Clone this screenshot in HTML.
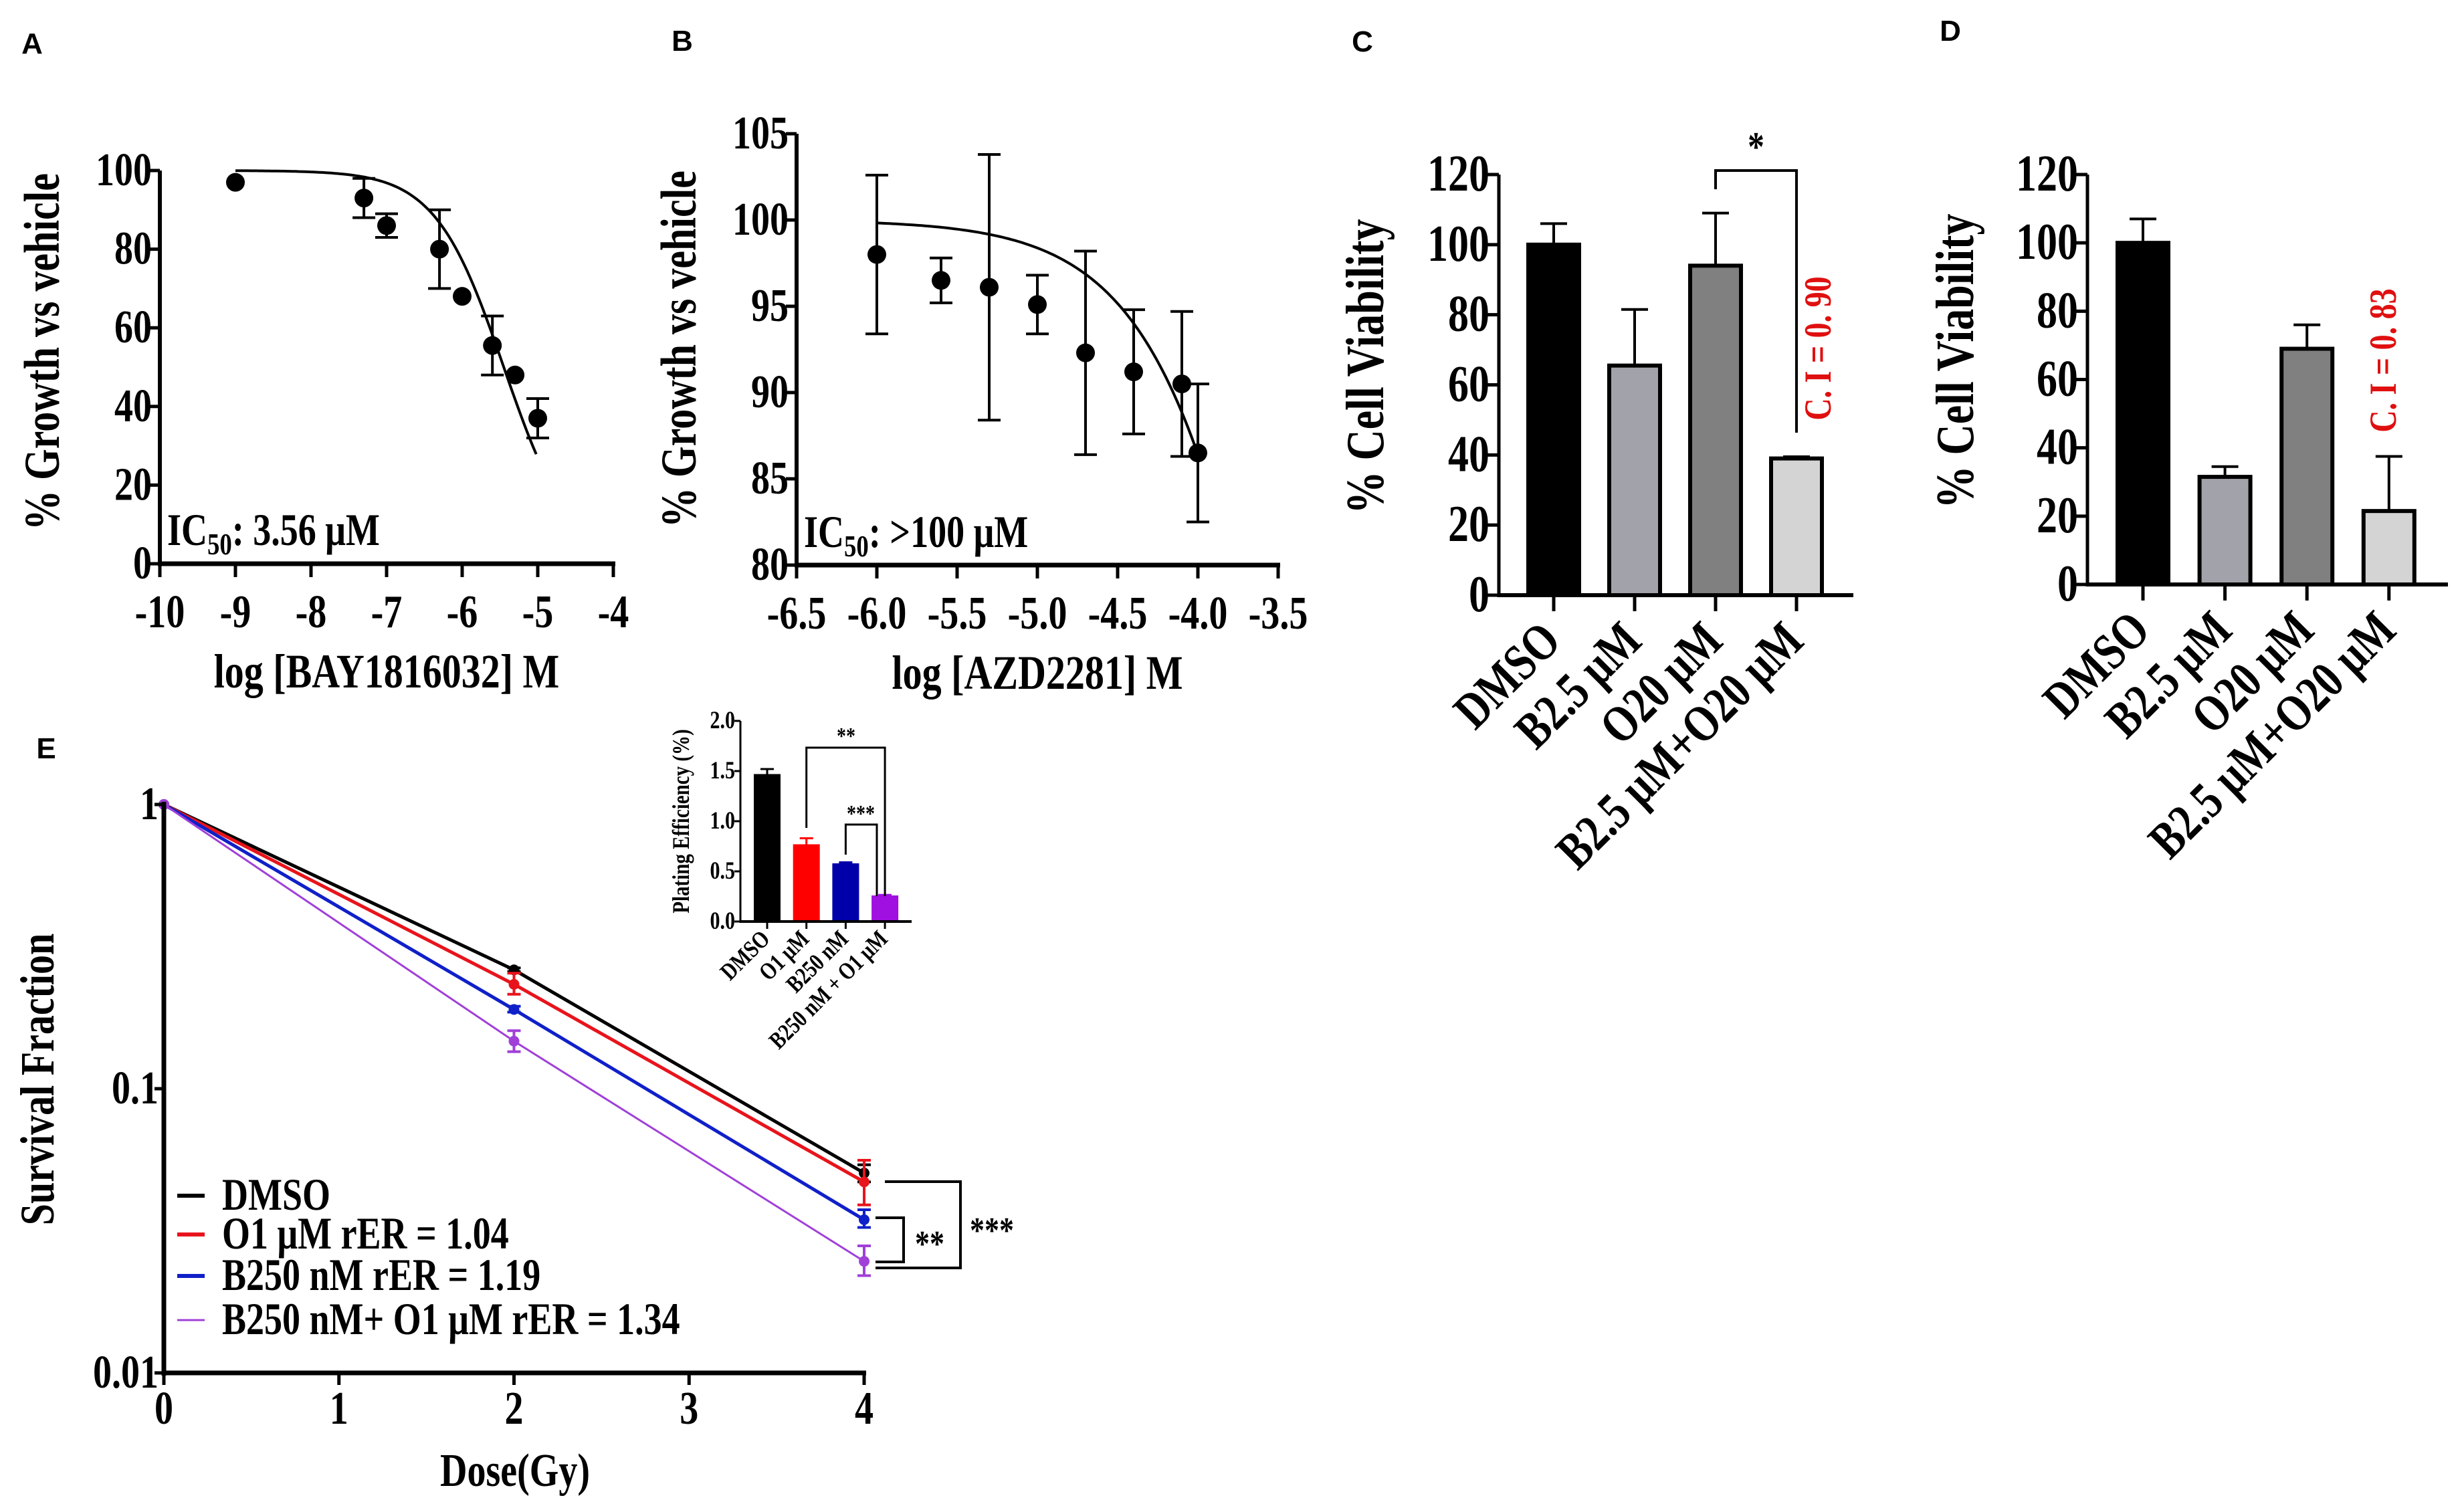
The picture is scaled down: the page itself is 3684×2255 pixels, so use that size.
<!DOCTYPE html>
<html><head><meta charset="utf-8"><style>
html,body{margin:0;padding:0;background:#fff}
svg{display:block}
text{font-family:"Liberation Serif",serif;font-weight:bold}
.lab{font-family:"Liberation Sans",sans-serif;font-weight:bold}
</style></head><body>
<svg id="fig" width="3684" height="2255" viewBox="0 0 3684 2255" xmlns="http://www.w3.org/2000/svg"></svg>
<script>
// ---------- Panel A data ----------
const aX=[-9,-7.3,-7,-6.3,-6,-5.6,-5.3,-5];
const aY=[97,93,86,80,68,55.5,48,37];
const aErr=[0,5,3,10,0,7.5,0,5];
const aXTicks=[-10,-9,-8,-7,-6,-5,-4];
const aYTicks=[0,20,40,60,80,100];
const aFit=[-5.45,0.96];
// ---------- Panel B data ----------
const bX=[-6,-5.6,-5.3,-5,-4.7,-4.4,-4.1,-4.0];
const bY=[98,96.5,96.1,95.1,92.3,91.2,90.5,86.5];
const bErr=[4.6,1.3,7.7,1.7,5.9,3.6,4.2,4.0];
const bXTicks=[-6.5,-6.0,-5.5,-5.0,-4.5,-4.0,-3.5];
const bYTicks=[80,85,90,95,100,105];
const bFit=[-3.18,0.98];
// ---------- Panel C/D data ----------
const cdCats=["DMSO","B2.5 μM","O20 μM","B2.5 μM+O20 μM"];
const cVals=[100,65.5,94,39];
const cErr=[6,16,15,0.5];
const dVals=[100,31.5,69,21.5];
const dErr=[7,3,7,16];
const cdYTicks=[0,20,40,60,80,100,120];
const cdColors=["#000","#a2a2aa","#808080","#d4d4d4"];
// ---------- Panel E data ----------
const eDose=[0,2,4];
const eNames=["DMSO","O1 μM rER = 1.04","B250 nM rER = 1.19","B250 nM+ O1 μM rER = 1.34"];
const eColors=["#000","#e8141c","#1020c8","#a040d8"];
const eSF=[[1,0.262,0.0505],[1,0.233,0.047],[1,0.19,0.0346],[1,0.147,0.0247]];
const eErrHi=[[1,0.266,0.054],[1,0.255,0.056],[1,0.195,0.0375],[1,0.16,0.028]];
const eErrLo=[[1,0.258,0.047],[1,0.215,0.039],[1,0.186,0.0325],[1,0.135,0.022]];
const eXTicks=[0,1,2,3,4];
const eYTicks=[0.01,0.1,1];
// ---------- Inset data ----------
const iCats=["DMSO","O1 μM","B250 nM","B250 nM + O1 μM"];
const iVals=[1.47,0.77,0.58,0.26];
const iErr=[0.05,0.06,0.01,0.005];
const iColors=["#000","#ff0000","#0000aa","#a010e0"];
const iYTicks=["0.0","0.5","1.0","1.5","2.0"];

const NS="http://www.w3.org/2000/svg";
const svg=document.getElementById('fig');
const serifTexts=[];
function el(tag,attrs,parent,txt){const e=document.createElementNS(NS,tag);for(const k in attrs)e.setAttribute(k,attrs[k]);if(txt!==undefined)e.textContent=txt;(parent||svg).appendChild(e);return e;}
function grp(name){const g=el('g',{});


return g;}
function line(g,x1,y1,x2,y2,w,c,name){const l=el('line',{x1,y1,x2,y2,stroke:c||'#000','stroke-width':w},g);


return l;}
function txt(g,x,y,s,size,opts,name){const o=Object.assign({x,y,'font-size':size},opts||{});
 if(!o.class){o['font-size']=size*1.25;}
 const t=el('text',o,g,s);
 if(!o.class)serifTexts.push(t);
 
 
 return t;}

// panel letters
[["A",48,64],["B",1020,60],["C",2037,61],["D",2916,45],["E",69,1118]].forEach(p=>{
 txt(svg,p[1],p[2]+16,p[0],44,{class:'lab','text-anchor':'middle'},'panel-label-'+p[0].toLowerCase());
});

function doseResp(name,X,Y,E,xt,yt,fit,ax,title,ic,icx,icy,fitRange){
 const g=grp(name);
 const sx=v=>ax.x0+(v-xt[0])/(xt[xt.length-1]-xt[0])*(ax.x1-ax.x0);
 const sy=v=>ax.y0-(v-yt[0])/(yt[yt.length-1]-yt[0])*(ax.y0-ax.y1);
 line(g,ax.x0,ax.y0+3,ax.x0,ax.y1,6,'#000','y-axis');
 line(g,ax.x0-3,ax.y0,ax.x1+3,ax.y0,7,'#000','x-axis');
 yt.forEach(v=>{line(g,ax.x0-16,sy(v),ax.x0,sy(v),5,'#000','y-tick');
  txt(g,ax.x0-12,sy(v)+22,String(v),56,{'text-anchor':'end'},'y-tick-label');});
 const dec=xt.some(q=>q%1);
 xt.forEach(v=>{line(g,sx(v),ax.y0,sx(v),ax.y0+20,5,'#000','x-tick');
  txt(g,sx(v),ax.y0+95,dec? v.toFixed(1):String(v),56,{'text-anchor':'middle'},'x-tick-label');});
 let d='';for(let i=0;i<=100;i++){const x=fitRange[0]+(fitRange[1]-fitRange[0])*i/100;const y=100/(1+Math.pow(10,(x-fit[0])*fit[1]));d+=(i?'L':'M')+sx(x).toFixed(1)+' '+sy(y).toFixed(1);}
 const p=el('path',{d,fill:'none',stroke:'#000','stroke-width':4},g);
 
 
 X.forEach((x,i)=>{
  if(E[i]>0){line(g,sx(x),sy(Y[i]-E[i]),sx(x),sy(Y[i]+E[i]),4,'#000','error-bar');
   line(g,sx(x)-17,sy(Y[i]+E[i]),sx(x)+17,sy(Y[i]+E[i]),4,'#000','error-cap');
   line(g,sx(x)-17,sy(Y[i]-E[i]),sx(x)+17,sy(Y[i]-E[i]),4,'#000','error-cap');}
  const c=el('circle',{cx:sx(x),cy:sy(Y[i]),r:14,fill:'#000'},g);
  
  
 });
 const t=txt(g,icx,icy,'',54,{},'ic50-label');
 el('tspan',{},t,'IC');el('tspan',{dy:14,'font-size':46},t,'50');el('tspan',{dy:-14},t,ic);
 txt(g,ax.ty[0],ax.ty[1],title[0],60,{'text-anchor':'middle',transform:`rotate(-90 ${ax.ty[0]} ${ax.ty[1]})`},'y-axis-title');
 txt(g,(ax.x0+ax.x1)/2,ax.y0+185,title[1],58,{'text-anchor':'middle'},'x-axis-title');
}
doseResp('panel-a-dose-response',aX,aY,aErr,aXTicks,aYTicks,aFit,{x0:239,x1:917,y0:843,y1:255,ty:[88,526]},['% Growth vs vehicle','log [BAY1816032] M'],': 3.56 μM',250,815,[-9,-5.02]);
doseResp('panel-b-dose-response',bX,bY,bErr,bXTicks,bYTicks,bFit,{x0:1191,x1:1911,y0:845,y1:200,ty:[1040,522]},['% Growth vs vehicle','log [AZD2281] M'],': >100 μM',1202,818,[-6,-4]);

function barPanel(name,vals,err,ax,ci,ciPos,bracket){
 const g=grp(name);
 const sy=v=>ax.y0-v/120*(ax.y0-ax.y1);
 const xs=i=>ax.xc0+i*ax.dx;
 vals.forEach((v,i)=>{
  line(g,xs(i),sy(v),xs(i),sy(v+err[i]),4,'#000','error-bar');
  line(g,xs(i)-20,sy(v+err[i]),xs(i)+20,sy(v+err[i]),4,'#000','error-cap');
  const r=el('rect',{x:xs(i)-38,y:sy(v),width:76,height:ax.y0-sy(v),fill:cdColors[i],stroke:'#000','stroke-width':6},g);
  
  
 });
 line(g,ax.x0,ax.y0+3,ax.x0,ax.y1,5,'#000','y-axis');
 line(g,ax.x0,ax.y0,ax.x1,ax.y0,6,'#000','x-axis');
 cdYTicks.forEach(v=>{line(g,ax.x0-18,sy(v),ax.x0,sy(v),5,'#000','y-tick');
  txt(g,ax.x0-14,sy(v)+24,String(v),62,{'text-anchor':'end'},'y-tick-label');});
 cdCats.forEach((c,i)=>{line(g,xs(i),ax.y0,xs(i),ax.y0+24,5,'#000','x-tick');
  const x=xs(i)+14,y=ax.y0+72;
  txt(g,x,y,c,62,{'text-anchor':'end',transform:`rotate(-45 ${x} ${y})`},'category-label');});
 txt(g,ax.tx,ax.ty,'% Cell Viability',64,{'text-anchor':'middle',transform:`rotate(-90 ${ax.tx} ${ax.ty})`},'y-axis-title');
 txt(g,ciPos[0],ciPos[1],ci,46,{'text-anchor':'middle',style:'fill:#e01010',transform:`rotate(-90 ${ciPos[0]} ${ciPos[1]})`},'ci-label');
 if(bracket){const p=el('path',{d:`M${xs(2)} 283 V255 H${xs(3)} V647`,fill:'none',stroke:'#000','stroke-width':4},g);
  
  
  txt(g,(xs(2)+xs(3))/2,240,'*',50,{'text-anchor':'middle'},'significance-star');}
}
barPanel('panel-c-bar-chart',cVals,cErr,{x0:2241,x1:2771,y0:890,y1:261,xc0:2323,dx:121,tx:2068,ty:548},'C. I = 0. 90',[2737,521],true);
barPanel('panel-d-bar-chart',dVals,dErr,{x0:3121,x1:3660,y0:874,y1:261,xc0:3204,dx:122.6,tx:2950,ty:540},'C. I = 0. 83',[3582,539],false);

(function(){
 const g=grp('panel-e-survival-chart');
 const x0=245,x1=1292,yTop=1203,yBot=2053;
 const sx=v=>x0+v/4*(x1-x0);
 const sy=v=>yBot-(Math.log10(v)+2)/2*(yBot-yTop);
 eSF.forEach((s,k)=>{
  let d='';eDose.forEach((x,i)=>{d+=(i?'L':'M')+sx(x)+' '+sy(s[i]);});
  const p=el('path',{d,fill:'none',stroke:eColors[k],'stroke-width':k==3?3:5},g);
  
  
  eDose.forEach((x,i)=>{
   if(i>0){line(g,sx(x),sy(eErrLo[k][i]),sx(x),sy(eErrHi[k][i]),4,eColors[k],'error-bar');
    line(g,sx(x)-10,sy(eErrLo[k][i]),sx(x)+10,sy(eErrLo[k][i]),4,eColors[k],'error-cap');
    line(g,sx(x)-10,sy(eErrHi[k][i]),sx(x)+10,sy(eErrHi[k][i]),4,eColors[k],'error-cap');}
   const c=el('circle',{cx:sx(x),cy:sy(s[i]),r:8,fill:eColors[k]},g);
   
   
  });
 });
 line(g,x0,yBot+4,x0,yTop-4,7,'#000','y-axis');
 line(g,x0-3,yBot,x1+3,yBot,7,'#000','x-axis');
 eYTicks.forEach(v=>{line(g,x0-14,sy(v),x0,sy(v),5,'#000','y-tick');
  txt(g,x0-8,sy(v)+22,String(v),56,{'text-anchor':'end'},'y-tick-label');});
 eXTicks.forEach(v=>{line(g,sx(v),yBot,sx(v),yBot+18,5,'#000','x-tick');
  txt(g,sx(v),yBot+76,String(v),56,{'text-anchor':'middle'},'x-tick-label');});
 txt(g,80,1614,'Survival Fraction',58,{'text-anchor':'middle',transform:'rotate(-90 80 1614)'},'y-axis-title');
 txt(g,770,2222,'Dose(Gy)',56,{'text-anchor':'middle'},'x-axis-title');
 const ly=[1788,1846,1908,1974];
 eNames.forEach((n,k)=>{line(g,265,ly[k],306,ly[k],k==3?3:6,eColors[k],'legend-swatch');
  txt(g,332,ly[k]+21,n,54,{},'legend-entry');});
 let p=el('path',{d:'M1323 1767 H1436 V1896 H1309',fill:'none',stroke:'#000','stroke-width':4},g);
 
 
 p=el('path',{d:'M1309 1821 H1351 V1887 H1309',fill:'none',stroke:'#000','stroke-width':4},g);
 
 
 txt(g,1450,1858,'***',44,{},'significance-stars');
 txt(g,1368,1878,'**',44,{},'significance-stars');
})();

(function(){
 const g=grp('panel-e-inset-bar-chart');
 const x0=1107,x1=1363,y0=1378,y1=1078;
 const sy=v=>y0-v/2*(y0-y1);
 const xs=i=>1147+i*58.7;
 iVals.forEach((v,i)=>{
  line(g,xs(i),sy(v),xs(i),sy(v+iErr[i]),3,iColors[i],'error-bar');
  line(g,xs(i)-10,sy(v+iErr[i]),xs(i)+10,sy(v+iErr[i]),3,iColors[i],'error-cap');
  const r=el('rect',{x:xs(i)-20,y:sy(v),width:40,height:y0-sy(v),fill:iColors[i]},g);
  
  
 });
 line(g,x0,y0+2,x0,y1,3,'#000','y-axis');
 line(g,x0,y0,x1,y0,4,'#000','x-axis');
 iYTicks.forEach(v=>{line(g,x0-9,sy(+v),x0,sy(+v),3,'#000','y-tick');
  txt(g,x0-8,sy(+v)+11,v,30,{'text-anchor':'end'},'y-tick-label');});
 iCats.forEach((c,i)=>{line(g,xs(i),y0,xs(i),y0+11,3,'#000','x-tick');
  const x=xs(i)+6,y=y0+28;
  txt(g,x,y,c,29,{'text-anchor':'end',transform:`rotate(-45 ${x} ${y})`},'category-label');});
 txt(g,1030,1228,'Plating Efficiency (%)',29,{'text-anchor':'middle',transform:'rotate(-90 1030 1228)'},'y-axis-title');
 let p=el('path',{d:`M${xs(1)} 1238 V1118 H${xs(3)} V1340`,fill:'none',stroke:'#000','stroke-width':3},g);
 
 
 p=el('path',{d:`M${xs(2)} 1278 V1233 H1311 V1340`,fill:'none',stroke:'#000','stroke-width':3},g);
 
 
 txt(g,1265,1112,'**',28,{'text-anchor':'middle'},'significance-stars');
 txt(g,1287,1228,'***',28,{'text-anchor':'middle'},'significance-stars');
})();

// condense serif text horizontally (reference uses a narrow bold serif)
serifTexts.forEach(t=>{
 const L=t.getComputedTextLength();
 if(L>0){t.setAttribute('textLength',(L*0.8).toFixed(1));t.setAttribute('lengthAdjust','spacingAndGlyphs');}
});
</script>
</body></html>
